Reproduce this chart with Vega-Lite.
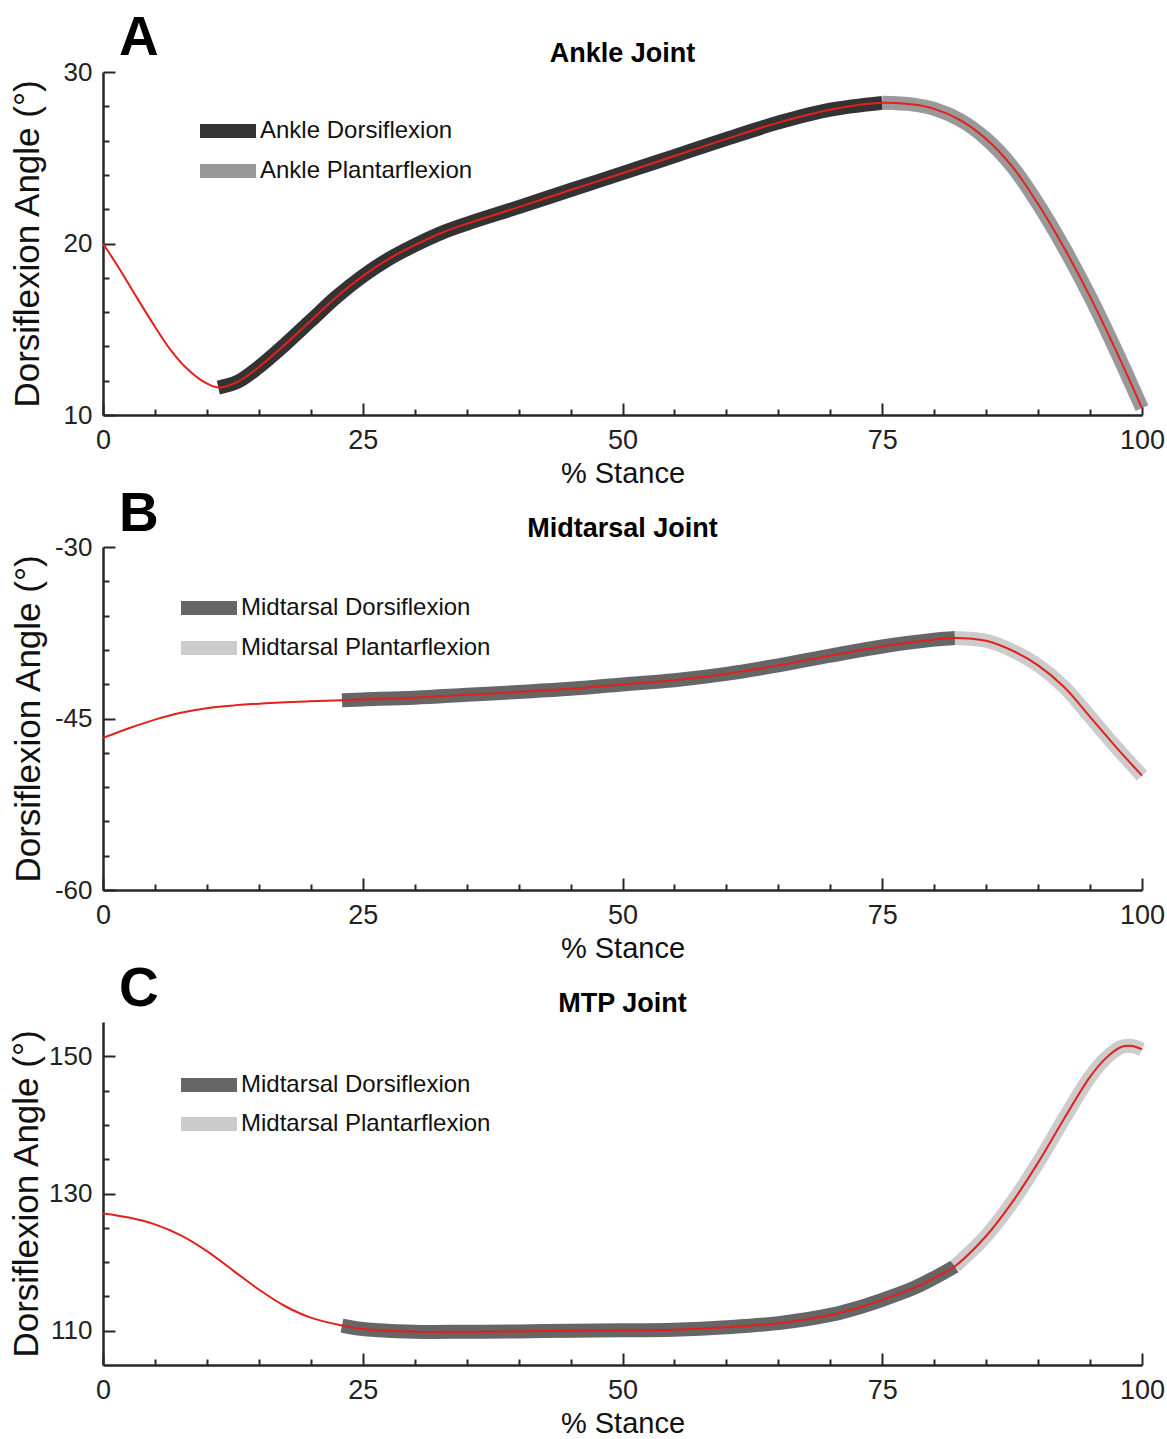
{
"$schema": "https://vega.github.io/schema/vega-lite/v6.json",
"padding": {"left": 9, "top": 11, "right": 5, "bottom": 5},
"bounds": "flush",
"spacing": 132,
"config": {
  "font": "Liberation Sans",
  "view": {"stroke": null},
  "axis": {"grid": false, "domainColor": "#262626", "domainWidth": 2.5, "tickColor": "#262626", "tickWidth": 2, "labelFont": "Liberation Sans", "labelFontSize": 26, "labelColor": "#222222", "titleFont": "Liberation Sans", "titleFontWeight": "normal", "titleColor": "#111111", "labelFlush": false},
  "legend": {"orient": "none", "symbolType": "M-4,0H4", "symbolSize": 196, "symbolStrokeWidth": 14, "labelFont": "Liberation Sans", "labelFontSize": 24, "labelColor": "#111111", "labelOffset": 18, "padding": 0, "labelLimit": 500}
},
"resolve": {"scale": {"color": "independent"}, "legend": {"color": "independent"}},
"vconcat": [
{
  "width": 1039, "height": 343,
  "data": {"values": [
    {"x": 0, "y": 20.0, "seg": "pre"},
    {"x": 1.5, "y": 18.6, "seg": "pre"},
    {"x": 3, "y": 17.1, "seg": "pre"},
    {"x": 5, "y": 15.15, "seg": "pre"},
    {"x": 6.5, "y": 13.8, "seg": "pre"},
    {"x": 8, "y": 12.75, "seg": "pre"},
    {"x": 9.6, "y": 11.97, "seg": "pre"},
    {"x": 11.1, "y": 11.6, "seg": "Ankle Dorsiflexion"},
    {"x": 13, "y": 11.95, "seg": "Ankle Dorsiflexion"},
    {"x": 15, "y": 12.8, "seg": "Ankle Dorsiflexion"},
    {"x": 17.5, "y": 14.1, "seg": "Ankle Dorsiflexion"},
    {"x": 20, "y": 15.5, "seg": "Ankle Dorsiflexion"},
    {"x": 22.5, "y": 16.9, "seg": "Ankle Dorsiflexion"},
    {"x": 25, "y": 18.1, "seg": "Ankle Dorsiflexion"},
    {"x": 27.5, "y": 19.1, "seg": "Ankle Dorsiflexion"},
    {"x": 30, "y": 19.9, "seg": "Ankle Dorsiflexion"},
    {"x": 32.5, "y": 20.6, "seg": "Ankle Dorsiflexion"},
    {"x": 35, "y": 21.15, "seg": "Ankle Dorsiflexion"},
    {"x": 40, "y": 22.12, "seg": "Ankle Dorsiflexion"},
    {"x": 45, "y": 23.12, "seg": "Ankle Dorsiflexion"},
    {"x": 50, "y": 24.1, "seg": "Ankle Dorsiflexion"},
    {"x": 55, "y": 25.1, "seg": "Ankle Dorsiflexion"},
    {"x": 60, "y": 26.1, "seg": "Ankle Dorsiflexion"},
    {"x": 65, "y": 27.05, "seg": "Ankle Dorsiflexion"},
    {"x": 70, "y": 27.8, "seg": "Ankle Dorsiflexion"},
    {"x": 75, "y": 28.2, "seg": "Ankle Dorsiflexion"},
    {"x": 75, "y": 28.2, "seg": "Ankle Plantarflexion", "dup": true},
    {"x": 78, "y": 28.1, "seg": "Ankle Plantarflexion"},
    {"x": 80, "y": 27.85, "seg": "Ankle Plantarflexion"},
    {"x": 82.5, "y": 27.2, "seg": "Ankle Plantarflexion"},
    {"x": 85, "y": 26.1, "seg": "Ankle Plantarflexion"},
    {"x": 87.5, "y": 24.5, "seg": "Ankle Plantarflexion"},
    {"x": 90, "y": 22.3, "seg": "Ankle Plantarflexion"},
    {"x": 92.5, "y": 19.75, "seg": "Ankle Plantarflexion"},
    {"x": 95, "y": 16.9, "seg": "Ankle Plantarflexion"},
    {"x": 97.5, "y": 13.75, "seg": "Ankle Plantarflexion"},
    {"x": 100, "y": 10.4, "seg": "Ankle Plantarflexion"}
  ]},
  "layer": [
    {
      "transform": [{"filter": "datum.seg == 'Ankle Dorsiflexion'"}],
      "mark": {"type": "line", "strokeWidth": 14, "interpolate": "catmull-rom"},
      "encoding": {
        "x": {"field": "x", "type": "quantitative", "scale": {"domain": [0, 100], "nice": false},
              "axis": {"orient": "bottom", "values": [0, 25, 50, 75, 100], "tickSize": -12, "labelPadding": 24, "labelFontSize": 27, "title": "% Stance", "titleFontSize": 29, "titlePadding": 6}},
        "y": {"field": "y", "type": "quantitative", "scale": {"domain": [10, 30], "nice": false},
              "axis": {"orient": "left", "values": [10, 20, 30], "tickSize": -12, "labelPadding": 23, "title": "Dorsiflexion Angle (°)", "titleFontSize": 35, "titlePadding": 18}},
        "color": {"field": "seg", "type": "nominal",
                  "scale": {"domain": ["Ankle Dorsiflexion"], "range": ["#333333"]},
                  "legend": {"title": null, "legendX": 111, "legendY": 45}}
      }
    },
    {
      "transform": [{"filter": "datum.seg == 'Ankle Plantarflexion'"}],
      "mark": {"type": "line", "strokeWidth": 14, "interpolate": "catmull-rom"},
      "encoding": {
        "x": {"field": "x", "type": "quantitative", "scale": {"domain": [0, 100], "nice": false}, "axis": null},
        "y": {"field": "y", "type": "quantitative", "scale": {"domain": [10, 30], "nice": false}, "axis": null},
        "color": {"field": "seg", "type": "nominal",
                  "scale": {"domain": ["Ankle Plantarflexion"], "range": ["#999999"]},
                  "legend": {"title": null, "legendX": 111, "legendY": 85}}
      }
    },
    {
      "transform": [{"filter": "!datum.dup"}],
      "mark": {"type": "line", "strokeWidth": 2, "color": "#e3211c", "interpolate": "catmull-rom"},
      "encoding": {
        "x": {"field": "x", "type": "quantitative", "scale": {"domain": [0, 100], "nice": false},
              "axis": {"orient": "bottom", "values": [5, 10, 15, 20, 30, 35, 40, 45, 55, 60, 65, 70, 80, 85, 90, 95], "tickSize": -6, "labels": false, "domain": false, "title": null}},
        "y": {"field": "y", "type": "quantitative", "scale": {"domain": [10, 30], "nice": false},
              "axis": {"orient": "left", "values": [12, 14, 16, 18, 22, 24, 26, 28], "tickSize": -6, "labels": false, "domain": false, "title": null}}
      }
    },
    {
      "data": {"values": [{}]},
      "mark": {"type": "text", "text": "A", "fontSize": 55, "fontWeight": "bold", "baseline": "alphabetic", "align": "center", "color": "#000000"},
      "encoding": {
        "x": {"datum": 3.46, "type": "quantitative", "scale": {"domain": [0, 100], "nice": false}, "axis": null},
        "y": {"datum": 30.99, "type": "quantitative", "scale": {"domain": [10, 30], "nice": false}, "axis": null}
      }
    },
    {
      "data": {"values": [{}]},
      "mark": {"type": "text", "text": "Ankle Joint", "fontSize": 27, "fontWeight": "bold", "baseline": "alphabetic", "align": "center", "color": "#000000"},
      "encoding": {
        "x": {"datum": 50, "type": "quantitative", "scale": {"domain": [0, 100], "nice": false}, "axis": null},
        "y": {"datum": 30.58, "type": "quantitative", "scale": {"domain": [10, 30], "nice": false}, "axis": null}
      }
    }
  ],
  "resolve": {"axis": {"x": "independent", "y": "independent"}, "scale": {"color": "independent"}, "legend": {"color": "independent"}}
},
{
  "width": 1039, "height": 343,
  "data": {"values": [
    {"x": 0, "y": -46.7, "seg": "pre"},
    {"x": 2.5, "y": -45.85, "seg": "pre"},
    {"x": 5, "y": -45.1, "seg": "pre"},
    {"x": 7.5, "y": -44.5, "seg": "pre"},
    {"x": 10, "y": -44.1, "seg": "pre"},
    {"x": 15, "y": -43.7, "seg": "pre"},
    {"x": 20, "y": -43.5, "seg": "pre"},
    {"x": 23, "y": -43.4, "seg": "Midtarsal Dorsiflexion"},
    {"x": 25, "y": -43.33, "seg": "Midtarsal Dorsiflexion"},
    {"x": 30, "y": -43.18, "seg": "Midtarsal Dorsiflexion"},
    {"x": 35, "y": -42.93, "seg": "Midtarsal Dorsiflexion"},
    {"x": 40, "y": -42.68, "seg": "Midtarsal Dorsiflexion"},
    {"x": 45, "y": -42.4, "seg": "Midtarsal Dorsiflexion"},
    {"x": 50, "y": -42.02, "seg": "Midtarsal Dorsiflexion"},
    {"x": 55, "y": -41.65, "seg": "Midtarsal Dorsiflexion"},
    {"x": 60, "y": -41.1, "seg": "Midtarsal Dorsiflexion"},
    {"x": 65, "y": -40.35, "seg": "Midtarsal Dorsiflexion"},
    {"x": 70, "y": -39.5, "seg": "Midtarsal Dorsiflexion"},
    {"x": 75, "y": -38.7, "seg": "Midtarsal Dorsiflexion"},
    {"x": 80, "y": -38.1, "seg": "Midtarsal Dorsiflexion"},
    {"x": 82, "y": -37.95, "seg": "Midtarsal Dorsiflexion"},
    {"x": 82, "y": -37.95, "seg": "Midtarsal Plantarflexion", "dup": true},
    {"x": 85, "y": -38.2, "seg": "Midtarsal Plantarflexion"},
    {"x": 87.5, "y": -39.05, "seg": "Midtarsal Plantarflexion"},
    {"x": 90, "y": -40.35, "seg": "Midtarsal Plantarflexion"},
    {"x": 92.5, "y": -42.25, "seg": "Midtarsal Plantarflexion"},
    {"x": 95, "y": -44.85, "seg": "Midtarsal Plantarflexion"},
    {"x": 97.5, "y": -47.5, "seg": "Midtarsal Plantarflexion"},
    {"x": 100, "y": -50.0, "seg": "Midtarsal Plantarflexion"}
  ]},
  "layer": [
    {
      "transform": [{"filter": "datum.seg == 'Midtarsal Dorsiflexion'"}],
      "mark": {"type": "line", "strokeWidth": 14, "interpolate": "catmull-rom"},
      "encoding": {
        "x": {"field": "x", "type": "quantitative", "scale": {"domain": [0, 100], "nice": false},
              "axis": {"orient": "bottom", "values": [0, 25, 50, 75, 100], "tickSize": -12, "labelPadding": 24, "labelFontSize": 27, "title": "% Stance", "titleFontSize": 29, "titlePadding": 6}},
        "y": {"field": "y", "type": "quantitative", "scale": {"domain": [-60, -30], "nice": false},
              "axis": {"orient": "left", "values": [-60, -45, -30], "tickSize": -12, "labelPadding": 23, "labelExpr": "toString(datum.value)", "title": "Dorsiflexion Angle (°)", "titleFontSize": 35, "titlePadding": 8}},
        "color": {"field": "seg", "type": "nominal",
                  "scale": {"domain": ["Midtarsal Dorsiflexion"], "range": ["#666666"]},
                  "legend": {"title": null, "legendX": 92, "legendY": 47}}
      }
    },
    {
      "transform": [{"filter": "datum.seg == 'Midtarsal Plantarflexion'"}],
      "mark": {"type": "line", "strokeWidth": 14, "interpolate": "catmull-rom"},
      "encoding": {
        "x": {"field": "x", "type": "quantitative", "scale": {"domain": [0, 100], "nice": false}, "axis": null},
        "y": {"field": "y", "type": "quantitative", "scale": {"domain": [-60, -30], "nice": false}, "axis": null},
        "color": {"field": "seg", "type": "nominal",
                  "scale": {"domain": ["Midtarsal Plantarflexion"], "range": ["#cccccc"]},
                  "legend": {"title": null, "legendX": 92, "legendY": 87}}
      }
    },
    {
      "transform": [{"filter": "!datum.dup"}],
      "mark": {"type": "line", "strokeWidth": 2, "color": "#e3211c", "interpolate": "catmull-rom"},
      "encoding": {
        "x": {"field": "x", "type": "quantitative", "scale": {"domain": [0, 100], "nice": false},
              "axis": {"orient": "bottom", "values": [5, 10, 15, 20, 30, 35, 40, 45, 55, 60, 65, 70, 80, 85, 90, 95], "tickSize": -6, "labels": false, "domain": false, "title": null}},
        "y": {"field": "y", "type": "quantitative", "scale": {"domain": [-60, -30], "nice": false},
              "axis": {"orient": "left", "values": [-57, -54, -51, -48, -42, -39, -36, -33], "tickSize": -6, "labels": false, "domain": false, "title": null}}
      }
    },
    {
      "data": {"values": [{}]},
      "mark": {"type": "text", "text": "B", "fontSize": 55, "fontWeight": "bold", "baseline": "alphabetic", "align": "center", "color": "#000000"},
      "encoding": {
        "x": {"datum": 3.46, "type": "quantitative", "scale": {"domain": [0, 100], "nice": false}, "axis": null},
        "y": {"datum": -28.6, "type": "quantitative", "scale": {"domain": [-60, -30], "nice": false}, "axis": null}
      }
    },
    {
      "data": {"values": [{}]},
      "mark": {"type": "text", "text": "Midtarsal Joint", "fontSize": 27, "fontWeight": "bold", "baseline": "alphabetic", "align": "center", "color": "#000000"},
      "encoding": {
        "x": {"datum": 50, "type": "quantitative", "scale": {"domain": [0, 100], "nice": false}, "axis": null},
        "y": {"datum": -29.125, "type": "quantitative", "scale": {"domain": [-60, -30], "nice": false}, "axis": null}
      }
    }
  ],
  "resolve": {"axis": {"x": "independent", "y": "independent"}, "scale": {"color": "independent"}, "legend": {"color": "independent"}}
},
{
  "width": 1039, "height": 343,
  "data": {"values": [
    {"x": 0, "y": 127.1, "seg": "pre"},
    {"x": 2.5, "y": 126.5, "seg": "pre"},
    {"x": 5, "y": 125.5, "seg": "pre"},
    {"x": 7.5, "y": 123.9, "seg": "pre"},
    {"x": 10, "y": 121.6, "seg": "pre"},
    {"x": 12.5, "y": 118.8, "seg": "pre"},
    {"x": 15, "y": 116.0, "seg": "pre"},
    {"x": 17.5, "y": 113.6, "seg": "pre"},
    {"x": 20, "y": 111.9, "seg": "pre"},
    {"x": 23, "y": 110.75, "seg": "Midtarsal Dorsiflexion"},
    {"x": 25, "y": 110.25, "seg": "Midtarsal Dorsiflexion"},
    {"x": 30, "y": 109.85, "seg": "Midtarsal Dorsiflexion"},
    {"x": 35, "y": 109.85, "seg": "Midtarsal Dorsiflexion"},
    {"x": 40, "y": 109.9, "seg": "Midtarsal Dorsiflexion"},
    {"x": 45, "y": 110.0, "seg": "Midtarsal Dorsiflexion"},
    {"x": 50, "y": 110.05, "seg": "Midtarsal Dorsiflexion"},
    {"x": 55, "y": 110.15, "seg": "Midtarsal Dorsiflexion"},
    {"x": 60, "y": 110.5, "seg": "Midtarsal Dorsiflexion"},
    {"x": 65, "y": 111.1, "seg": "Midtarsal Dorsiflexion"},
    {"x": 70, "y": 112.3, "seg": "Midtarsal Dorsiflexion"},
    {"x": 73, "y": 113.5, "seg": "Midtarsal Dorsiflexion"},
    {"x": 75, "y": 114.5, "seg": "Midtarsal Dorsiflexion"},
    {"x": 78, "y": 116.2, "seg": "Midtarsal Dorsiflexion"},
    {"x": 80, "y": 117.7, "seg": "Midtarsal Dorsiflexion"},
    {"x": 82, "y": 119.4, "seg": "Midtarsal Dorsiflexion"},
    {"x": 82, "y": 119.4, "seg": "Midtarsal Plantarflexion", "dup": true},
    {"x": 85, "y": 123.8, "seg": "Midtarsal Plantarflexion"},
    {"x": 87.5, "y": 128.7, "seg": "Midtarsal Plantarflexion"},
    {"x": 90, "y": 134.5, "seg": "Midtarsal Plantarflexion"},
    {"x": 92.5, "y": 140.9, "seg": "Midtarsal Plantarflexion"},
    {"x": 95, "y": 147.0, "seg": "Midtarsal Plantarflexion"},
    {"x": 96.5, "y": 149.7, "seg": "Midtarsal Plantarflexion"},
    {"x": 98, "y": 151.35, "seg": "Midtarsal Plantarflexion"},
    {"x": 99, "y": 151.5, "seg": "Midtarsal Plantarflexion"},
    {"x": 100, "y": 151.0, "seg": "Midtarsal Plantarflexion"}
  ]},
  "layer": [
    {
      "transform": [{"filter": "datum.seg == 'Midtarsal Dorsiflexion'"}],
      "mark": {"type": "line", "strokeWidth": 14, "interpolate": "catmull-rom"},
      "encoding": {
        "x": {"field": "x", "type": "quantitative", "scale": {"domain": [0, 100], "nice": false},
              "axis": {"orient": "bottom", "values": [0, 25, 50, 75, 100], "tickSize": -12, "labelPadding": 24, "labelFontSize": 27, "title": "% Stance", "titleFontSize": 29, "titlePadding": 6}},
        "y": {"field": "y", "type": "quantitative", "scale": {"domain": [105, 155], "nice": false},
              "axis": {"orient": "left", "values": [110, 130, 150], "tickSize": -12, "labelPadding": 23, "title": "Dorsiflexion Angle (°)", "titleFontSize": 35, "titlePadding": 4}},
        "color": {"field": "seg", "type": "nominal",
                  "scale": {"domain": ["Midtarsal Dorsiflexion"], "range": ["#666666"]},
                  "legend": {"title": null, "legendX": 92, "legendY": 49}}
      }
    },
    {
      "transform": [{"filter": "datum.seg == 'Midtarsal Plantarflexion'"}],
      "mark": {"type": "line", "strokeWidth": 14, "interpolate": "catmull-rom"},
      "encoding": {
        "x": {"field": "x", "type": "quantitative", "scale": {"domain": [0, 100], "nice": false}, "axis": null},
        "y": {"field": "y", "type": "quantitative", "scale": {"domain": [105, 155], "nice": false}, "axis": null},
        "color": {"field": "seg", "type": "nominal",
                  "scale": {"domain": ["Midtarsal Plantarflexion"], "range": ["#cccccc"]},
                  "legend": {"title": null, "legendX": 92, "legendY": 88}}
      }
    },
    {
      "transform": [{"filter": "!datum.dup"}],
      "mark": {"type": "line", "strokeWidth": 2, "color": "#e3211c", "interpolate": "catmull-rom"},
      "encoding": {
        "x": {"field": "x", "type": "quantitative", "scale": {"domain": [0, 100], "nice": false},
              "axis": {"orient": "bottom", "values": [5, 10, 15, 20, 30, 35, 40, 45, 55, 60, 65, 70, 80, 85, 90, 95], "tickSize": -6, "labels": false, "domain": false, "title": null}},
        "y": {"field": "y", "type": "quantitative", "scale": {"domain": [105, 155], "nice": false},
              "axis": {"orient": "left", "values": [115, 120, 125, 135, 140, 145], "tickSize": -6, "labels": false, "domain": false, "title": null}}
      }
    },
    {
      "data": {"values": [{}]},
      "mark": {"type": "text", "text": "C", "fontSize": 55, "fontWeight": "bold", "baseline": "alphabetic", "align": "center", "color": "#000000"},
      "encoding": {
        "x": {"datum": 3.46, "type": "quantitative", "scale": {"domain": [0, 100], "nice": false}, "axis": null},
        "y": {"datum": 157.33, "type": "quantitative", "scale": {"domain": [105, 155], "nice": false}, "axis": null}
      }
    },
    {
      "data": {"values": [{}]},
      "mark": {"type": "text", "text": "MTP Joint", "fontSize": 27, "fontWeight": "bold", "baseline": "alphabetic", "align": "center", "color": "#000000"},
      "encoding": {
        "x": {"datum": 50, "type": "quantitative", "scale": {"domain": [0, 100], "nice": false}, "axis": null},
        "y": {"datum": 156.46, "type": "quantitative", "scale": {"domain": [105, 155], "nice": false}, "axis": null}
      }
    }
  ],
  "resolve": {"axis": {"x": "independent", "y": "independent"}, "scale": {"color": "independent"}, "legend": {"color": "independent"}}
}
]
}
